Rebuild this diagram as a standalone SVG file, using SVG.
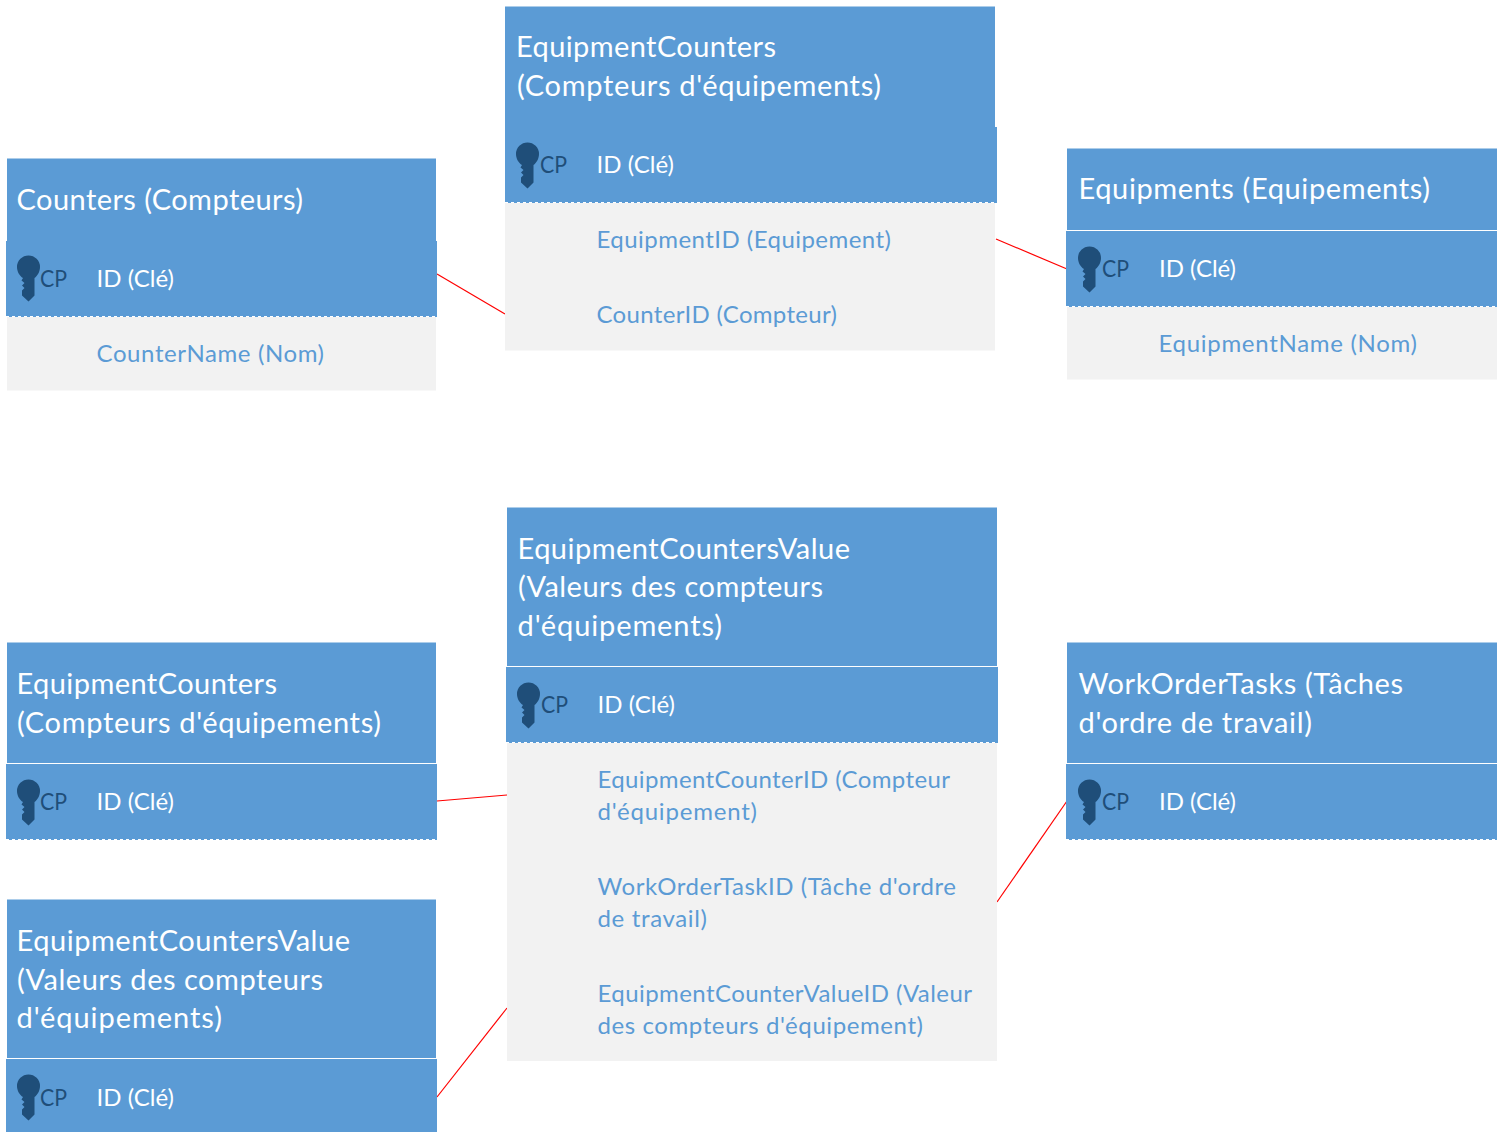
<svg xmlns="http://www.w3.org/2000/svg" width="1505" height="1132" viewBox="0 0 1505 1132">
<style>
text{font-family:"Lato","Open Sans","Liberation Sans",sans-serif}
.h{fill:#5b9bd5}
.b{fill:#f2f2f2}
.t{fill:#fff;font-size:29px}
.i{fill:#fff;font-size:24px}
.f{fill:#5b9bd5;font-size:24px}
.c{fill:#1f4e79;font-size:24px}
.d{stroke:#fff;stroke-width:1;stroke-dasharray:3 3;fill:none}
.l{stroke:#f00;stroke-width:1.2;fill:none}
</style>
<defs>
<path id="key" d="M-5.500 11C-9 9-11.500 4.500-11.500 0A11.500 11.500 0 0 1 11.500 0C11.500 4.500 9 9 6 11V28.500L0 34.500L-6.500 28.500V23.500L-4 21L-6.500 18.500L-4 16L-7 13.500Z" fill="#1f4e79"/>
</defs>
<g id="connectors">
<path class="l" d="M437 274L505 314"/>
<path class="l" d="M996 239L1067 269"/>
<path class="l" d="M437 801L507 795"/>
<path class="l" d="M997 902L1067 801"/>
<path class="l" d="M437 1097L507 1008"/>
</g>
<g id="counters">
<rect class="h" x="7" y="158.500" width="429" height="82.500"/>
<rect class="h" x="6" y="241" width="431" height="76"/>
<rect class="b" x="7" y="317" width="429" height="73.500"/>
<path class="d" d="M6 316.500H437"/>
<text class="t" x="16.500" y="210" textLength="286.500">Counters (Compteurs)</text>
<use href="#key" x="28.500" y="267"/>
<text class="c" x="40" y="287" textLength="27" lengthAdjust="spacingAndGlyphs">CP</text>
<text class="i" x="96.500" y="287" textLength="77.500">ID (Clé)</text>
<text class="f" x="96.500" y="362" textLength="227.500">CounterName (Nom)</text>
</g>
<g id="equipment-counters">
<rect class="h" x="505" y="6.500" width="490" height="120.500"/>
<rect class="h" x="505" y="127" width="492" height="76"/>
<rect class="b" x="505" y="203" width="490" height="147.500"/>
<path class="d" d="M505 202.500H997"/>
<text class="t" x="516" y="57" textLength="260">EquipmentCounters</text>
<text class="t" x="517" y="96" textLength="364">(Compteurs d'équipements)</text>
<use href="#key" x="527.500" y="154"/>
<text class="c" x="540" y="173" textLength="27" lengthAdjust="spacingAndGlyphs">CP</text>
<text class="i" x="596.500" y="173" textLength="77.500">ID (Clé)</text>
<text class="f" x="596.500" y="248" textLength="294.500">EquipmentID (Equipement)</text>
<text class="f" x="596.500" y="323" textLength="240.500">CounterID (Compteur)</text>
</g>
<g id="equipments">
<rect class="h" x="1067" y="148.500" width="430" height="81.500"/>
<rect class="h" x="1066" y="231" width="431" height="76"/>
<rect class="b" x="1067" y="307" width="430" height="72.500"/>
<path class="d" d="M1066 306.500H1497"/>
<text class="t" x="1078.500" y="199" textLength="351.500">Equipments (Equipements)</text>
<use href="#key" x="1089.500" y="258"/>
<text class="c" x="1102" y="277" textLength="27" lengthAdjust="spacingAndGlyphs">CP</text>
<text class="i" x="1159" y="277" textLength="77">ID (Clé)</text>
<text class="f" x="1158.500" y="352" textLength="258.500">EquipmentName (Nom)</text>
</g>
<g id="equipment-counters-value">
<rect class="h" x="507" y="507.500" width="490" height="158.500"/>
<rect class="h" x="506" y="667" width="492" height="76"/>
<rect class="b" x="507" y="743" width="490" height="318"/>
<path class="d" d="M506 742.500H998"/>
<text class="t" x="517.500" y="559" textLength="332.500">EquipmentCountersValue</text>
<text class="t" x="518" y="597" textLength="305">(Valeurs des compteurs</text>
<text class="t" x="517.500" y="636" textLength="204.500">d'équipements)</text>
<use href="#key" x="528.500" y="694"/>
<text class="c" x="541" y="713" textLength="27" lengthAdjust="spacingAndGlyphs">CP</text>
<text class="i" x="597.500" y="713" textLength="77.500">ID (Clé)</text>
<text class="f" x="597.500" y="788" textLength="352.500">EquipmentCounterID (Compteur</text>
<text class="f" x="597.500" y="820" textLength="159.500">d'équipement)</text>
<text class="f" x="597.500" y="895" textLength="358.500">WorkOrderTaskID (Tâche d'ordre</text>
<text class="f" x="597.500" y="927" textLength="109.500">de travail)</text>
<text class="f" x="597.500" y="1002" textLength="374.500">EquipmentCounterValueID (Valeur</text>
<text class="f" x="597.500" y="1034" textLength="325.500">des compteurs d'équipement)</text>
</g>
<g id="equipment-counters-ref">
<rect class="h" x="7" y="642.500" width="429" height="120.500"/>
<rect class="h" x="6" y="764" width="431" height="76"/>
<path class="d" d="M6 839.500H437"/>
<text class="t" x="16.500" y="694" textLength="260.500">EquipmentCounters</text>
<text class="t" x="17" y="733" textLength="364">(Compteurs d'équipements)</text>
<use href="#key" x="28.500" y="791"/>
<text class="c" x="40" y="810" textLength="27" lengthAdjust="spacingAndGlyphs">CP</text>
<text class="i" x="96.500" y="810" textLength="77.500">ID (Clé)</text>
</g>
<g id="equipment-counters-value-ref">
<rect class="h" x="7" y="899.500" width="429" height="158.500"/>
<rect class="h" x="6" y="1059" width="431" height="73"/>
<text class="t" x="16.500" y="951" textLength="333.500">EquipmentCountersValue</text>
<text class="t" x="17" y="990" textLength="306">(Valeurs des compteurs</text>
<text class="t" x="16.500" y="1028" textLength="205.500">d'équipements)</text>
<use href="#key" x="28.500" y="1086"/>
<text class="c" x="40" y="1106" textLength="27" lengthAdjust="spacingAndGlyphs">CP</text>
<text class="i" x="96.500" y="1106" textLength="77.500">ID (Clé)</text>
</g>
<g id="work-order-tasks">
<rect class="h" x="1067" y="642.500" width="430" height="120.500"/>
<rect class="h" x="1066" y="764" width="431" height="76"/>
<path class="d" d="M1066 839.500H1497"/>
<text class="t" x="1078.500" y="694" textLength="324.500">WorkOrderTasks (Tâches</text>
<text class="t" x="1078.500" y="733" textLength="233.500">d'ordre de travail)</text>
<use href="#key" x="1089.500" y="791"/>
<text class="c" x="1102" y="810" textLength="27" lengthAdjust="spacingAndGlyphs">CP</text>
<text class="i" x="1159" y="810" textLength="77">ID (Clé)</text>
</g>
</svg>
